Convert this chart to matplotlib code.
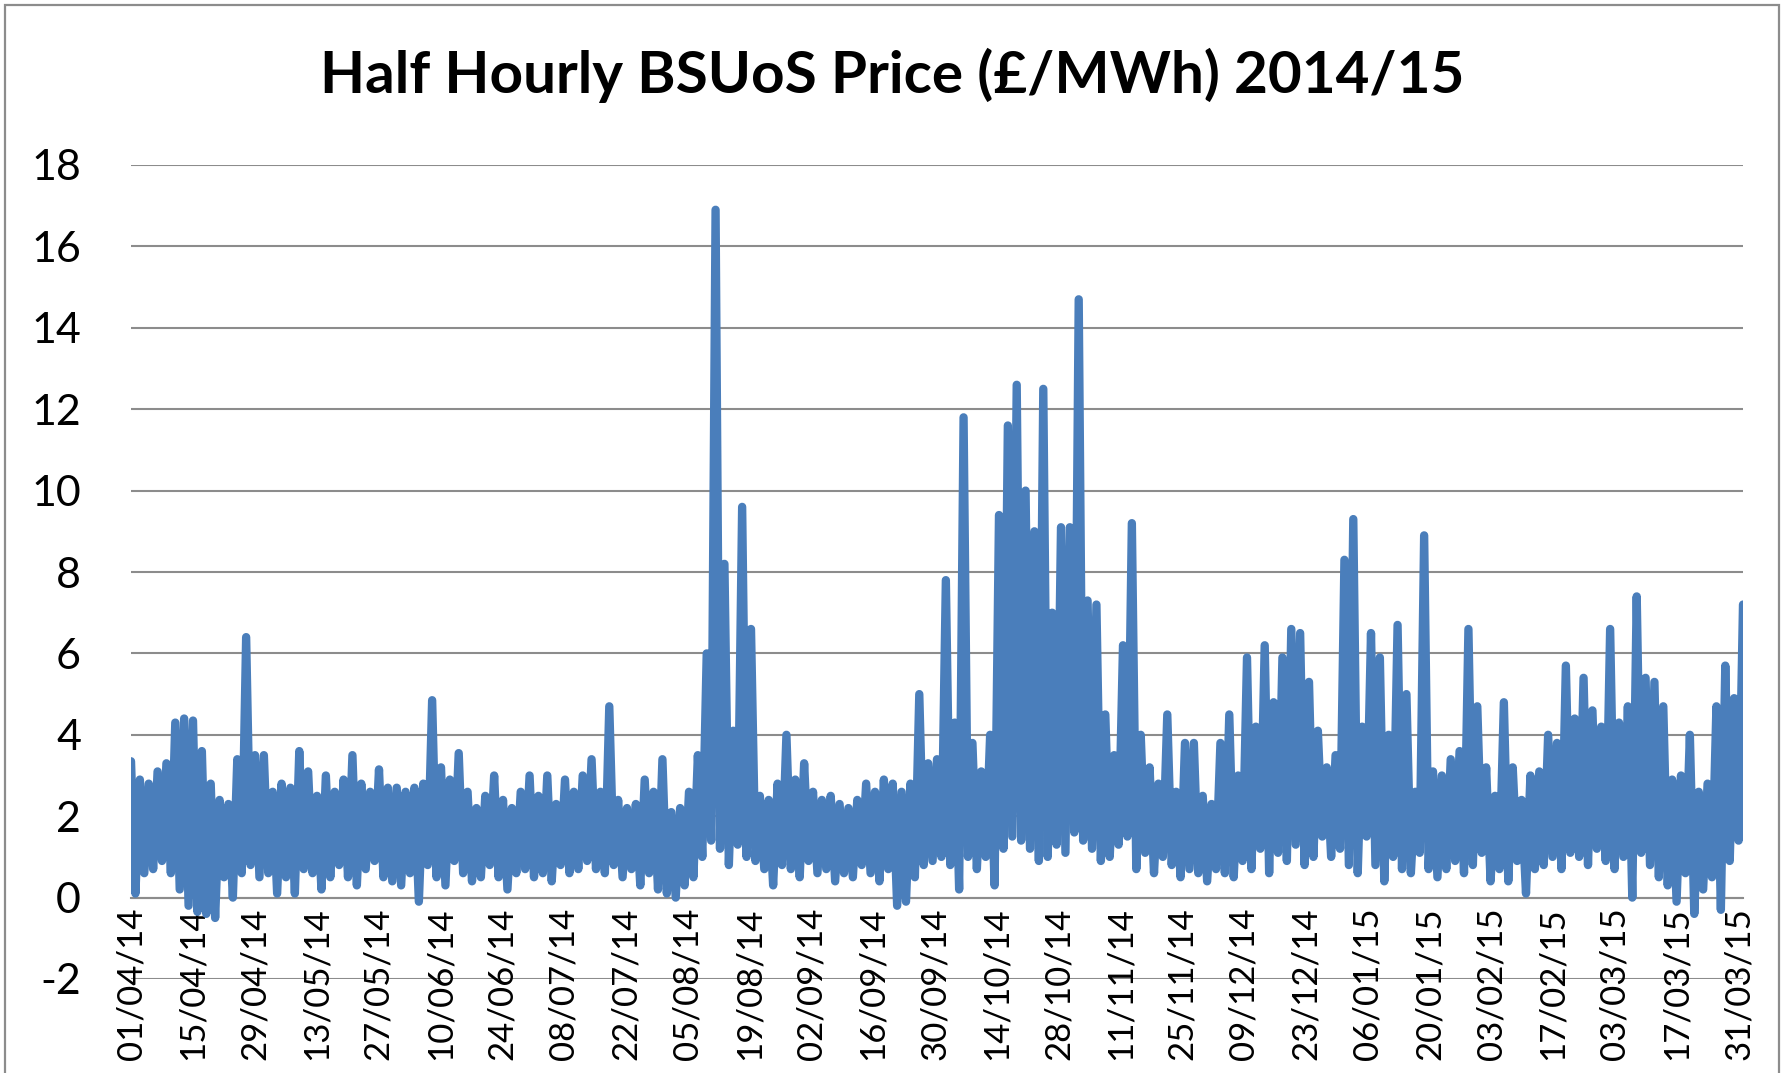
import numpy as np
import matplotlib.pyplot as plt
from matplotlib.patches import Rectangle

# two-day highs and lows (01/04/14 .. 31/03/15)
peaks = [3.35, 2.9, 2.8, 3.1, 3.3, 4.3, 4.4, 4.35, 3.6, 2.8,
         2.4, 2.3, 3.4, 6.4, 3.5, 3.5, 2.6, 2.8, 2.7, 3.6,
         3.1, 2.5, 3.0, 2.6, 2.9, 3.5, 2.8, 2.6, 3.15, 2.7,
         2.7, 2.6, 2.7, 2.8, 4.85, 3.2, 2.9, 3.55, 2.6, 2.2,
         2.5, 3.0, 2.4, 2.2, 2.6, 3.0, 2.5, 3.0, 2.3, 2.9,
         2.6, 3.0, 3.4, 2.6, 4.7, 2.4, 2.2, 2.3, 2.9, 2.6,
         3.4, 2.1, 2.2, 2.6, 3.5, 6.0, 16.9, 8.2, 4.1, 9.6,
         6.6, 2.5, 2.4, 2.8, 4.0, 2.9, 3.3, 2.6, 2.4, 2.5,
         2.3, 2.2, 2.4, 2.8, 2.6, 2.9, 2.8, 2.6, 2.8, 5.0,
         3.3, 3.4, 7.8, 4.3, 11.8, 3.8, 3.1, 4.0, 9.4, 11.6,
         12.6, 10.0, 9.0, 12.5, 7.0, 9.1, 9.1, 14.7, 7.3, 7.2,
         4.5, 3.5, 6.2, 9.2, 4.0, 3.2, 2.8, 4.5, 2.6, 3.8,
         3.8, 2.5, 2.3, 3.8, 4.5, 3.0, 5.9, 4.2, 6.2, 4.8,
         5.9, 6.6, 6.5, 5.3, 4.1, 3.2, 3.5, 8.3, 9.3, 4.2,
         6.5, 5.9, 4.0, 6.7, 5.0, 2.6, 8.9, 3.1, 3.0, 3.4,
         3.6, 6.6, 4.7, 3.2, 2.5, 4.8, 3.2, 2.4, 3.0, 3.1,
         4.0, 3.8, 5.7, 4.4, 5.4, 4.6, 4.2, 6.6, 4.3, 4.7,
         7.4, 5.4, 5.3, 4.7, 2.9, 3.0, 4.0, 2.6, 2.8, 4.7,
         5.7, 4.9, 7.2]

dips = [0.1, 0.6, 0.7, 0.9, 0.6, 0.2, -0.2, -0.35, -0.4, -0.5,
        0.5, 0.0, 0.6, 0.8, 0.5, 0.6, 0.1, 0.5, 0.1, 0.7,
        0.6, 0.2, 0.5, 0.8, 0.5, 0.3, 0.7, 0.9, 0.5, 0.4,
        0.3, 0.6, -0.1, 0.8, 0.5, 0.3, 0.9, 0.6, 0.4, 0.5,
        0.8, 0.5, 0.2, 0.6, 0.7, 0.5, 0.6, 0.4, 0.8, 0.6,
        0.7, 0.9, 0.7, 0.6, 0.8, 0.5, 0.7, 0.3, 0.6, 0.2,
        0.1, 0.0, 0.3, 0.5, 1.0, 1.4, 1.2, 0.8, 1.3, 1.0,
        0.9, 0.7, 0.3, 0.8, 0.7, 0.5, 0.9, 0.6, 0.7, 0.4,
        0.6, 0.5, 0.8, 0.6, 0.4, 0.7, -0.2, -0.1, 0.5, 0.8,
        0.9, 1.0, 0.8, 0.2, 1.0, 0.7, 1.0, 0.3, 1.2, 1.5,
        1.4, 1.2, 0.9, 1.0, 1.3, 1.1, 1.6, 1.4, 1.2, 0.9,
        1.0, 1.3, 1.5, 0.7, 1.1, 0.6, 1.0, 0.8, 0.5, 0.7,
        0.6, 0.4, 0.7, 0.6, 0.5, 0.9, 0.7, 1.2, 0.6, 1.1,
        0.9, 1.3, 0.8, 1.0, 1.5, 1.0, 1.2, 0.8, 0.6, 1.5,
        0.8, 0.4, 1.0, 0.7, 0.6, 1.1, 0.7, 0.5, 0.7, 0.9,
        0.6, 0.8, 1.1, 0.4, 0.7, 0.4, 0.9, 0.1, 0.7, 0.8,
        1.0, 0.7, 1.1, 1.0, 0.8, 1.2, 0.9, 0.7, 1.0, 0.0,
        1.1, 0.8, 0.5, 0.3, -0.1, 0.6, -0.4, 0.2, 0.5, -0.3,
        0.9, 1.4]

tick_labels = ["01/04/14", "15/04/14", "29/04/14", "13/05/14", "27/05/14",
               "10/06/14", "24/06/14", "08/07/14", "22/07/14", "05/08/14",
               "19/08/14", "02/09/14", "16/09/14", "30/09/14", "14/10/14",
               "28/10/14", "11/11/14", "25/11/14", "09/12/14", "23/12/14",
               "06/01/15", "20/01/15", "03/02/15", "17/02/15", "03/03/15",
               "17/03/15", "31/03/15"]
tick_days = np.arange(len(tick_labels)) * 14

price = np.empty(len(peaks) + len(dips))
price[0::2] = peaks
price[1::2] = dips
days = np.linspace(0, 365, len(price))

plt.rcParams['font.family'] = ['Lato', 'DejaVu Sans']
plt.rcParams['axes.unicode_minus'] = False

fig = plt.figure(figsize=(17.84, 10.73), dpi=100)
fig.patches.append(Rectangle((5 / 1784, -0.05), 1774 / 1784, 1.05 - 5 / 1073,
                             transform=fig.transFigure, fill=False,
                             edgecolor='#8c8c8c', linewidth=1.6))

ax = fig.add_axes([131 / 1784, 1 - 979 / 1073, 1612 / 1784, 814 / 1073])
ax.set_xlim(0, 365)
ax.set_ylim(-2, 18)

for y in range(-2, 19, 2):
    ax.axhline(y, color='#8c8c8c', linewidth=1.5, zorder=1)

ax.plot(days, price, color='#4a7ebb', linewidth=6,
        solid_joinstyle='round', solid_capstyle='round', zorder=3)

for s in ['top', 'right', 'left']:
    ax.spines[s].set_visible(False)
ax.spines['bottom'].set_position(('data', 0))
ax.spines['bottom'].set_color('#8c8c8c')
ax.spines['bottom'].set_linewidth(1.5)

ax.set_yticks(range(-2, 19, 2))
ax.tick_params(axis='y', length=0, pad=36, labelsize=31)
ax.set_xticks(tick_days)
ax.set_xticklabels(tick_labels, rotation=90)
ax.tick_params(axis='x', length=0, pad=7, labelsize=25)

fig.text(0.5, 1 - 75 / 1073, "Half Hourly BSUoS Price (£/MWh) 2014/15",
         ha='center', va='center', fontsize=42, fontweight='bold')

fig.savefig('out.png', dpi=100)
